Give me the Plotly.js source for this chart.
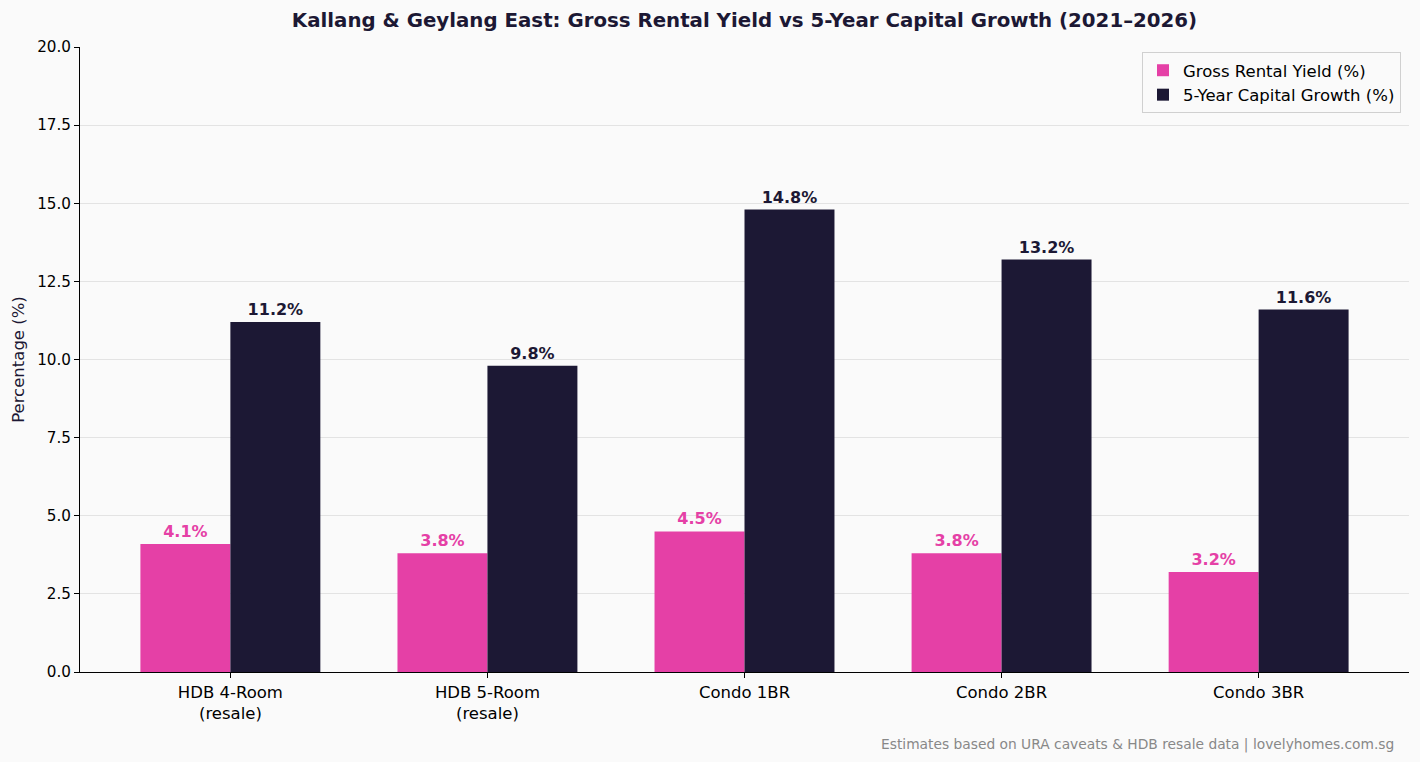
<!DOCTYPE html>
<html><head><meta charset="utf-8">
<script src="https://cdn.plot.ly/plotly-3.0.1.min.js"></script>
<style>html,body{margin:0;padding:0;background:#fafafa}#chart{width:1420px;height:762px}</style>
</head><body><div id="chart"></div>
<script>
const categories = ["HDB 4-Room<br>(resale)", "HDB 5-Room<br>(resale)", "Condo 1BR", "Condo 2BR", "Condo 3BR"];
const rentalYield = [4.1, 3.8, 4.5, 3.8, 3.2];
const capitalGrowth = [11.2, 9.8, 14.8, 13.2, 11.6];
const yTicks = [0, 2.5, 5, 7.5, 10, 12.5, 15, 17.5, 20];

const pink = "#e540a6", navy = "#1c1834";
const font = "DejaVu Sans, sans-serif";
const traces = [
  {type:"bar", name:"Gross Rental Yield (%)", x:categories, y:rentalYield, marker:{color:pink},
   text:rentalYield.map(v=>v.toFixed(1)+"%"), textposition:"outside", cliponaxis:false,
   textfont:{family:font, size:16, color:pink, weight:"bold"}},
  {type:"bar", name:"5-Year Capital Growth (%)", x:categories, y:capitalGrowth, marker:{color:navy},
   text:capitalGrowth.map(v=>v.toFixed(1)+"%"), textposition:"outside", cliponaxis:false,
   textfont:{family:font, size:16, color:navy, weight:"bold"}}
];
const layout = {
  width:1420, height:762,
  paper_bgcolor:"#fafafa", plot_bgcolor:"#fafafa",
  margin:{l:80, r:11, t:47, b:90},
  font:{family:font, size:15, color:"#000"},
  barmode:"group", bargap:0.3, bargroupgap:0,
  title:{text:"<b>Kallang & Geylang East: Gross Rental Yield vs 5-Year Capital Growth (2021–2026)</b>",
    font:{family:font, size:19.8, color:"#1c1834"}, xref:"paper", x:0.5, xanchor:"center",
    yref:"container", y:0.974, yanchor:"middle"},
  xaxis:{range:[-0.585, 4.585], showline:true, linecolor:"#000", linewidth:1, ticks:"outside", ticklen:5,
    tickcolor:"#000", tickfont:{size:16.5, color:"#000"}, showgrid:false, fixedrange:true},
  yaxis:{range:[0,20], tickvals:yTicks, ticktext:yTicks.map(v=>v.toFixed(1)), showline:true, linecolor:"#000",
    linewidth:1, ticks:"outside", ticklen:5, tickcolor:"#000", tickfont:{size:15.2, color:"#000"},
    gridcolor:"#e3e3e3", gridwidth:1, zeroline:false,
    title:{text:"Percentage (%)", font:{size:16.5, color:"#1c1834"}, standoff:8}},
  legend:{x:0.994, y:0.992, xanchor:"right", yanchor:"top", bgcolor:"rgba(250,250,250,0.9)",
    bordercolor:"#d0d0d0", borderwidth:1, font:{size:16.5, color:"#000"}, tracegroupgap:0},
  showlegend:true,
  annotations:[{text:"Estimates based on URA caveats & HDB resale data | lovelyhomes.com.sg", xref:"paper", yref:"paper",
    x:(1396-80)/(1420-80-11), xanchor:"right", y:-(744-672)/(672-47), yanchor:"middle", showarrow:false,
    font:{size:13.8, color:"#888"}}]
};
Plotly.newPlot("chart", traces, layout, {displayModeBar:false});
</script></body></html>
